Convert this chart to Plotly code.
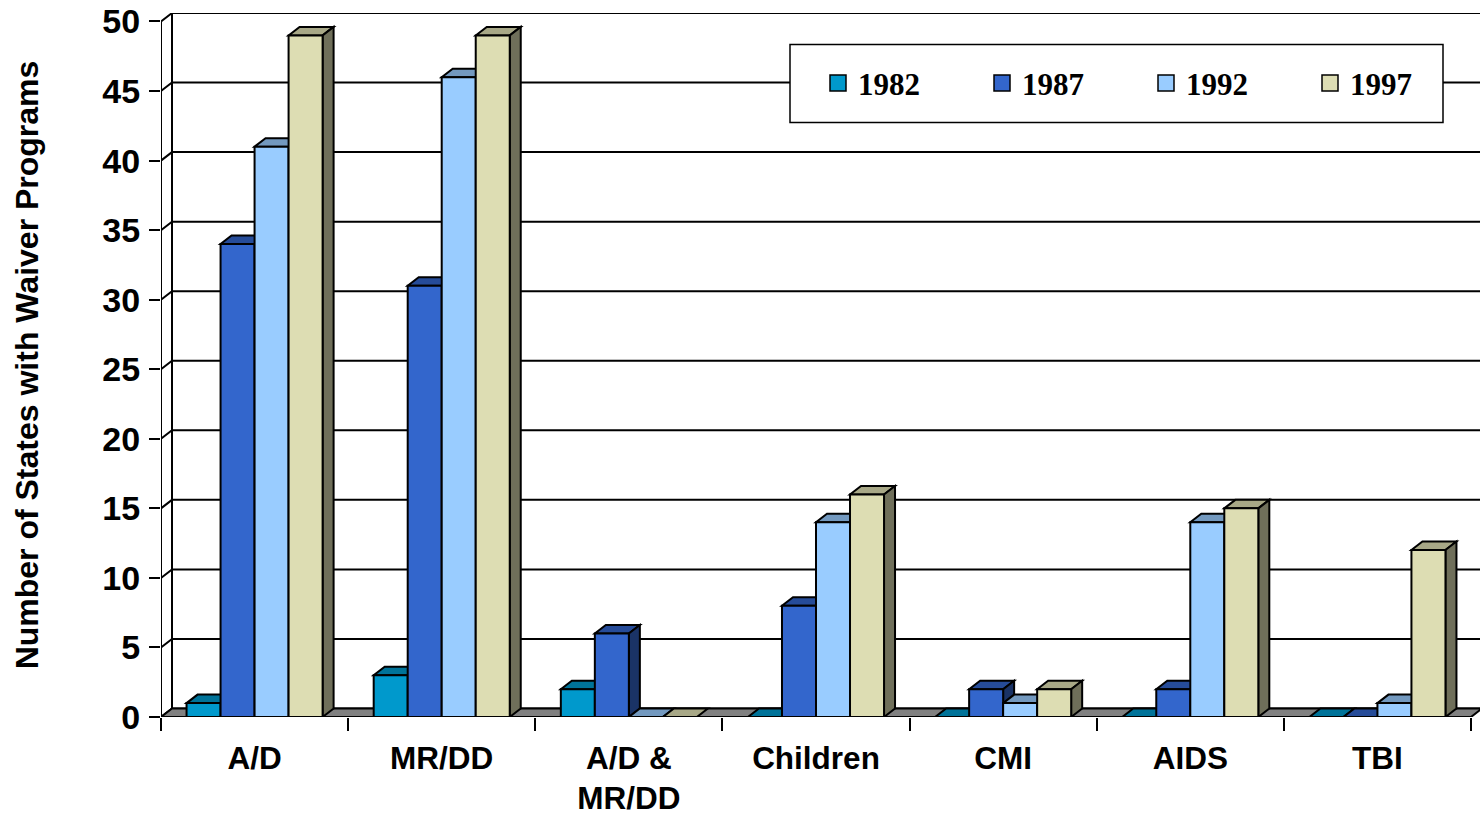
import plotly.graph_objects as go

# ---------------- data ----------------
categories = ["A/D", "MR/DD", "A/D &<br>MR/DD", "Children", "CMI", "AIDS", "TBI"]
years = ["1982", "1987", "1992", "1997"]
v1982 = [1, 3, 2, 0, 0, 0, 0]
v1987 = [34, 31, 6, 8, 2, 2, 0]
v1992 = [41, 46, 0, 14, 1, 14, 1]
v1997 = [49, 49, 0, 16, 2, 15, 12]
series = [v1982, v1987, v1992, v1997]
y_ticks = list(range(0, 51, 5))

# ---------------- styles ----------------
front_col = ["#0099CC", "#3366CC", "#99CCFF", "#DDDDB3"]
top_col = ["#007399", "#264C99", "#7399BF", "#A8A887"]
side_col = ["#004C66", "#1A3366", "#4C6680", "#6F6F5A"]
floor_col = "#808080"

W, H = 1480, 813
ML, MR, MB = 161, 0, 96
px_per_y = 13.92
depth_px_x, depth_px_y = 11.0, 8.5
ymax_front = 50
dyu = depth_px_y / px_per_y
y_top = ymax_front + dyu
MT = H - MB - y_top * px_per_y
ncat = len(categories)
plot_w = W - ML - MR
x_min = -0.5
px_per_x = (plot_w - 9.0) / ncat
x_max = x_min + plot_w / px_per_x
dxu = depth_px_x / px_per_x

bargap = 0.273
group_w = 1 - bargap
bar_w = group_w / len(series)

xs = list(range(ncat))

fig = go.Figure()
for k, (yr, vals) in enumerate(zip(years, series)):
    fig.add_trace(go.Bar(
        x=xs, y=vals, name=yr, legendgroup=yr, showlegend=False,
        marker=dict(color=front_col[k], line=dict(color="black", width=2)),
    ))
# legend keys (larger square swatches like the original)
for k, yr in enumerate(years):
    fig.add_trace(go.Scatter(
        x=[None], y=[None], mode="markers", name=yr, legendgroup=yr,
        marker=dict(symbol="square", size=16, color=front_col[k],
                    line=dict(color="black", width=1.5)),
    ))

shapes = []
LW = 2
# back wall grid lines with diagonal on left side wall
for v in y_ticks:
    shapes.append(dict(type="path", xref="x", yref="y", layer="below",
                       path=f"M{x_min},{v} L{x_min+dxu},{v+dyu} L{x_max},{v+dyu}",
                       line=dict(color="black", width=LW)))
# back wall left edge
shapes.append(dict(type="line", xref="x", yref="y", layer="below",
                   x0=x_min + dxu, x1=x_min + dxu, y0=dyu, y1=ymax_front + dyu,
                   line=dict(color="black", width=LW)))
# front left axis line
shapes.append(dict(type="line", xref="x", yref="y", layer="below",
                   x0=x_min, x1=x_min, y0=0, y1=ymax_front,
                   line=dict(color="black", width=LW)))
# floor
fx1 = x_min + ncat
shapes.append(dict(type="path", xref="x", yref="y", layer="below",
                   path=f"M{x_min},0 L{fx1},0 L{fx1+dxu},{dyu} L{x_min+dxu},{dyu} Z",
                   fillcolor=floor_col, line=dict(color="black", width=LW)))
# bar depth faces (top and right side), left to right
for c in range(ncat):
    for k, vals in enumerate(series):
        v = vals[c]
        x0 = c - group_w / 2 + k * bar_w
        x1 = x0 + bar_w
        shapes.append(dict(type="path", xref="x", yref="y", layer="below",
                           path=f"M{x0},{v} L{x1},{v} L{x1+dxu},{v+dyu} L{x0+dxu},{v+dyu} Z",
                           fillcolor=top_col[k], line=dict(color="black", width=LW)))
        if v > 0:
            shapes.append(dict(type="path", xref="x", yref="y", layer="below",
                               path=f"M{x1},0 L{x1+dxu},{dyu} L{x1+dxu},{v+dyu} L{x1},{v} Z",
                               fillcolor=side_col[k], line=dict(color="black", width=LW)))
# legend box
def px2paper_x(p):
    return (p - ML) / plot_w
def px2paper_y(p):
    return (H - MB - p) / (H - MB - MT)
shapes.append(dict(type="rect", xref="paper", yref="paper", layer="above",
                   x0=px2paper_x(790), x1=px2paper_x(1443),
                   y0=px2paper_y(122), y1=px2paper_y(44),
                   fillcolor="white", line=dict(color="black", width=1.5)))

fig.update_layout(
    width=W, height=H,
    margin=dict(l=ML, r=MR, t=MT, b=MB, pad=0, autoexpand=False),
    paper_bgcolor="white", plot_bgcolor="white",
    barmode="group", bargap=bargap, bargroupgap=0,
    shapes=shapes,
    showlegend=True,
    legend=dict(orientation="h", x=px2paper_x(818), xanchor="left",
                y=px2paper_y(83), yanchor="middle",
                bgcolor="rgba(0,0,0,0)", borderwidth=0,
                entrywidth=119, entrywidthmode="pixels",
                font=dict(family="Liberation Serif", size=31, color="black", weight="bold")),
    xaxis=dict(range=[x_min, x_max], tickmode="array", tickvals=xs, ticktext=categories,
               showgrid=False, zeroline=False, showline=False, automargin=False,
               ticks="", ticklabelstandoff=19,
               tickfont=dict(family="Liberation Sans", size=31.5, color="black", weight="bold"),
               minor=dict(tickmode="array", tickvals=[x_min + i for i in range(ncat + 1)],
                          ticks="outside", ticklen=13, tickwidth=2, tickcolor="black",
                          showgrid=False)),
    yaxis=dict(range=[0, y_top], tickmode="array", tickvals=y_ticks,
               showgrid=False, zeroline=False, showline=False, automargin=False,
               ticks="outside", ticklen=11, tickwidth=2, tickcolor="black",
               ticklabelstandoff=2,
               tickfont=dict(family="Liberation Sans", size=34, color="black", weight="bold"),
               title=dict(text="Number of States with Waiver Programs", standoff=54,
                          font=dict(family="Liberation Sans", size=32, color="black", weight="bold"))),
)

fig.write_html("out.html", config={"displayModeBar": False},
               post_script="document.body.style.margin='0';")
